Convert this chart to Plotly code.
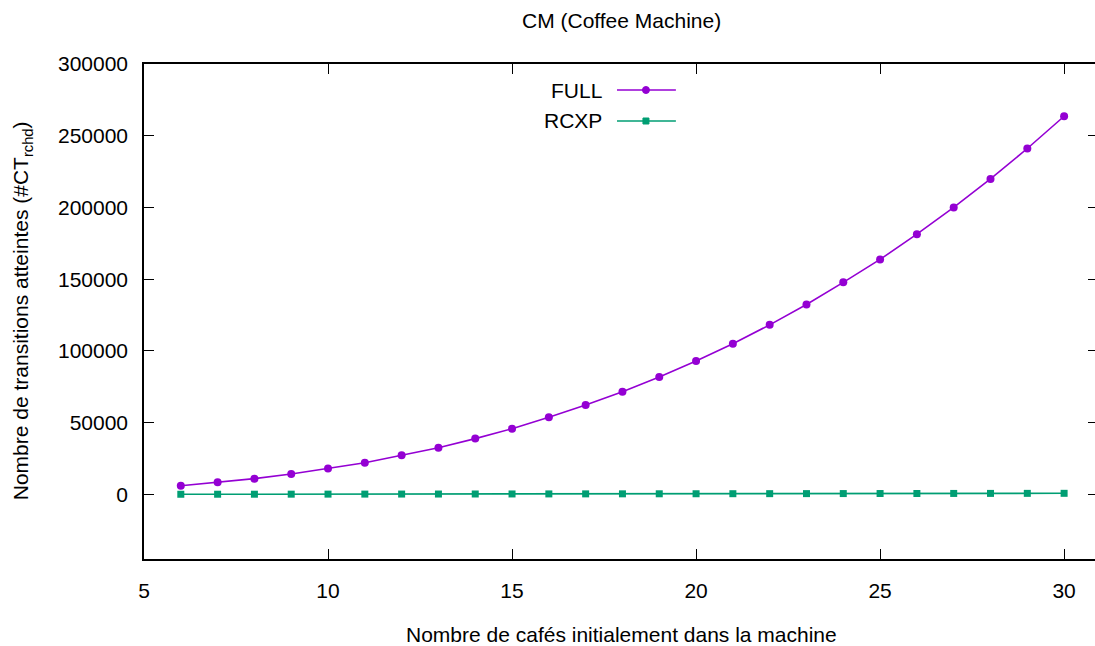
import plotly.graph_objects as go

cafes = list(range(6, 31))
full = [6100, 8500, 11000, 14300, 18000, 22100, 27300, 32600, 38900, 45800,
        53800, 62300, 71600, 81800, 93000, 105000, 118200, 132400, 147800, 163800,
        181400, 200000, 219900, 241100, 263600]
rcxp = [120, 140, 160, 185, 210, 235, 260, 285, 310, 340,
        365, 395, 420, 450, 480, 510, 540, 570, 600, 630,
        660, 690, 720, 750, 780]

title_text = "CM (Coffee Machine)"
x_title = "Nombre de cafés initialement dans la machine"
y_title = "Nombre de transitions atteintes (#CT<sub>rchd</sub>)"
x_ticks = [5, 10, 15, 20, 25, 30]
y_ticks = [0, 50000, 100000, 150000, 200000, 250000, 300000]
y_tick_labels = ["0", "50000", "100000", "150000", "200000", "250000", "300000"]

PURPLE = "#9400D3"
GREEN = "#009E73"
FONT = "Liberation Sans, Arial, Helvetica, sans-serif"
FS = 21

W, H = 1100, 646
L, R, T, B = 144, 0, 64, 87
PW, PH = W - L - R, H - T - B

def xp(px):
    return (px - L) / PW

def yp(py):
    return (H - B - py) / PH

fig = go.Figure()
fig.add_trace(go.Scatter(x=cafes, y=full, mode="lines+markers", name="FULL",
                         line=dict(color=PURPLE, width=1.6),
                         marker=dict(symbol="circle", size=8, color=PURPLE),
                         showlegend=False))
fig.add_trace(go.Scatter(x=cafes, y=rcxp, mode="lines+markers", name="RCXP",
                         line=dict(color=GREEN, width=1.6),
                         marker=dict(symbol="square", size=7, color=GREEN),
                         showlegend=False))

annotations = [
    dict(text=title_text, x=xp(622), y=yp(20), xref="paper", yref="paper",
         showarrow=False, xanchor="center", yanchor="middle",
         font=dict(size=FS, color="black", family=FONT)),
    dict(text=x_title, x=xp(622), y=yp(634), xref="paper", yref="paper",
         showarrow=False, xanchor="center", yanchor="middle",
         font=dict(size=FS, color="black", family=FONT)),
    dict(text=y_title, x=xp(22), y=yp(311), xref="paper", yref="paper",
         showarrow=False, xanchor="center", yanchor="middle", textangle=-90,
         font=dict(size=FS, color="black", family=FONT)),
]
shapes = []
legend_rows = [("FULL", PURPLE, "circle", 90), ("RCXP", GREEN, "square", 121)]
for name, col, sym, py in legend_rows:
    annotations.append(dict(text=name, x=xp(605), y=yp(py), xref="paper", yref="paper",
                            showarrow=False, xanchor="right", yanchor="middle",
                            font=dict(size=FS, color="black", family=FONT)))
    shapes.append(dict(type="line", xref="paper", yref="paper",
                       x0=xp(618), x1=xp(677), y0=yp(py), y1=yp(py),
                       line=dict(color=col, width=1.6)))
    if sym == "circle":
        shapes.append(dict(type="circle", xref="paper", yref="paper",
                           x0=xp(643.5), x1=xp(650.5), y0=yp(py - 3.5), y1=yp(py + 3.5),
                           fillcolor=col, line=dict(color=col, width=1)))
    else:
        shapes.append(dict(type="rect", xref="paper", yref="paper",
                           x0=xp(644), x1=xp(650), y0=yp(py - 3), y1=yp(py + 3),
                           fillcolor=col, line=dict(color=col, width=1)))

fig.update_layout(
    width=W, height=H,
    margin=dict(l=L, r=R, t=T, b=B, pad=0),
    paper_bgcolor="white", plot_bgcolor="white",
    font=dict(family=FONT, size=FS, color="black"),
    annotations=annotations, shapes=shapes,
    showlegend=False,
)
fig.update_xaxes(range=[5, 5 + (W - R - 144.3) / 36.87], tickvals=x_ticks,
                 ticks="inside", ticklen=10, tickwidth=1.2, tickcolor="black",
                 showline=True, linecolor="black", linewidth=1.5, mirror="allticks",
                 showgrid=False, zeroline=False, ticklabelstandoff=12,
                 tickfont=dict(size=FS, family=FONT, color="black"))
fig.update_yaxes(range=[-45000, 300000], tickvals=y_ticks, ticktext=y_tick_labels,
                 ticks="inside", ticklen=10, tickwidth=1.2, tickcolor="black",
                 showline=True, linecolor="black", linewidth=1.5, mirror="allticks",
                 showgrid=False, zeroline=False, ticklabelstandoff=10,
                 tickfont=dict(size=FS, family=FONT, color="black"))

fig.write_html("out.html", config={"displayModeBar": False},
               post_script="document.body.style.margin='0px';document.body.style.overflow='hidden';")
